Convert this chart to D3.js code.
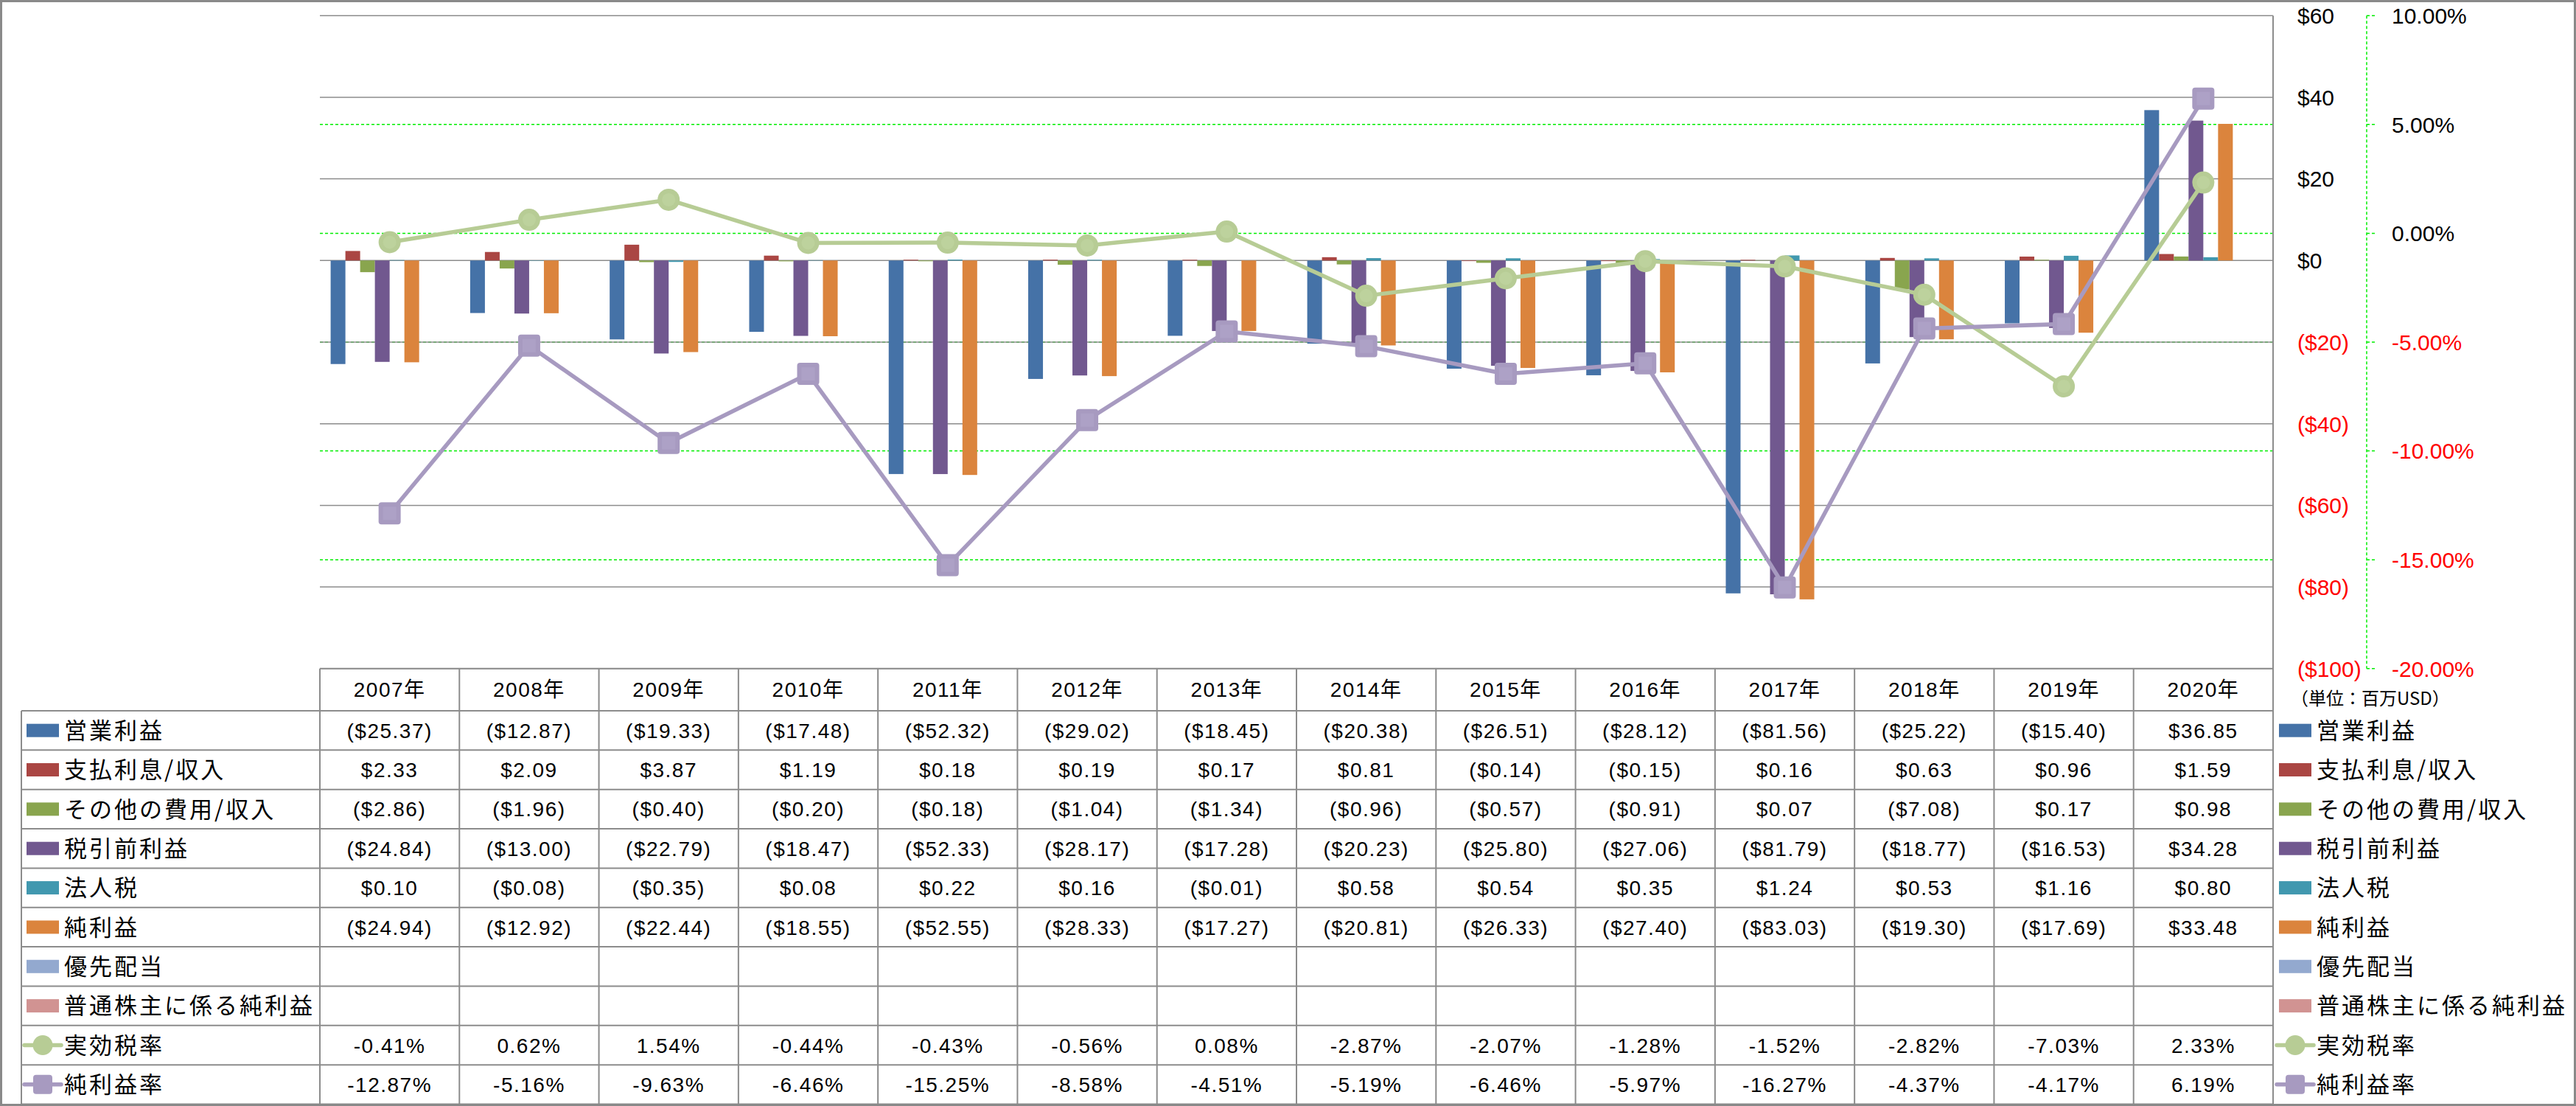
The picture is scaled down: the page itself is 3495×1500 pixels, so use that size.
<!DOCTYPE html>
<html><head><meta charset="utf-8">
<script src="https://cdn.jsdelivr.net/npm/d3@7"></script>
<style>
html,body{margin:0;padding:0;background:#fff;}
svg{display:block;}
</style></head>
<body>
<script>
// ---------- data ----------
const years = ["2007年","2008年","2009年","2010年","2011年","2012年","2013年","2014年","2015年","2016年","2017年","2018年","2019年","2020年"];
const opIncome   = [-25.37,-12.87,-19.33,-17.48,-52.32,-29.02,-18.45,-20.38,-26.51,-28.12,-81.56,-25.22,-15.40,36.85];
const interest   = [2.33,2.09,3.87,1.19,0.18,0.19,0.17,0.81,-0.14,-0.15,0.16,0.63,0.96,1.59];
const otherExp   = [-2.86,-1.96,-0.40,-0.20,-0.18,-1.04,-1.34,-0.96,-0.57,-0.91,0.07,-7.08,0.17,0.98];
const pretax     = [-24.84,-13.00,-22.79,-18.47,-52.33,-28.17,-17.28,-20.23,-25.80,-27.06,-81.79,-18.77,-16.53,34.28];
const incomeTax  = [0.10,-0.08,-0.35,0.08,0.22,0.16,-0.01,0.58,0.54,0.35,1.24,0.53,1.16,0.80];
const netIncome  = [-24.94,-12.92,-22.44,-18.55,-52.55,-28.33,-17.27,-20.81,-26.33,-27.40,-83.03,-19.30,-17.69,33.48];
const prefDiv    = [null,null,null,null,null,null,null,null,null,null,null,null,null,null];
const netCommon  = [null,null,null,null,null,null,null,null,null,null,null,null,null,null];
const taxRate    = [-0.41,0.62,1.54,-0.44,-0.43,-0.56,0.08,-2.87,-2.07,-1.28,-1.52,-2.82,-7.03,2.33];
const netMargin  = [-12.87,-5.16,-9.63,-6.46,-15.25,-8.58,-4.51,-5.19,-6.46,-5.97,-16.27,-4.37,-4.17,6.19];
const usdTicks   = [60,40,20,0,-20,-40,-60,-80,-100];
const pctTicks   = [10,5,0,-5,-10,-15,-20];
const unitLabel  = "（単位：百万USD）";

const barSeries = [
  {name:"営業利益", values:opIncome, color:"#4572A7"},
  {name:"支払利息/収入", values:interest, color:"#AA4643"},
  {name:"その他の費用/収入", values:otherExp, color:"#89A54E"},
  {name:"税引前利益", values:pretax, color:"#71588F"},
  {name:"法人税", values:incomeTax, color:"#4198AF"},
  {name:"純利益", values:netIncome, color:"#DB843D"},
  {name:"優先配当", values:prefDiv, color:"#93A9CF"},
  {name:"普通株主に係る純利益", values:netCommon, color:"#D19392"}
];
const lineSeries = [
  {name:"実効税率", values:taxRate, color:"#B7CC95", marker:"circle"},
  {name:"純利益率", values:netMargin, color:"#A79AC0", marker:"square"}
];

// ---------- layout ----------
const W = 3495, H = 1500;
const plotL = 434, plotR = 3084, plotT = 21.2, plotB = 906.8;
const tableTop = 906.8, headerB = 964, rowH = 53.35, labelL = 29;
const gridGray = "#8C8C8C";

const svg = d3.select("body").append("svg").attr("width", W).attr("height", H);

const x = d3.scaleBand().domain(years).range([plotL, plotR]).padding(0);
const xSub = d3.scaleBand().domain(barSeries.map(s => s.name)).range([0, x.bandwidth()]).paddingInner(0).paddingOuter(0.73);
const y = d3.scaleLinear().domain([-100, 60]).range([plotB, plotT]);
const yP = d3.scaleLinear().domain([-20, 10]).range([plotB, plotT]);

// green dashed gridlines (percent axis)
svg.append("g").selectAll("line").data(pctTicks.filter(d => d !== 10 && d !== -20)).join("line")
  .attr("x1", plotL).attr("x2", plotR)
  .attr("y1", d => yP(d)).attr("y2", d => yP(d))
  .attr("stroke", "#00EE00").attr("stroke-width", 1.5).attr("stroke-dasharray", "4,3");

// gray gridlines
svg.append("g").selectAll("line").data(usdTicks).join("line")
  .attr("x1", plotL).attr("x2", plotR)
  .attr("y1", d => y(d)).attr("y2", d => y(d))
  .attr("stroke", gridGray).attr("stroke-width", 1.5);

// right $ axis line
svg.append("line").attr("x1", plotR).attr("x2", plotR).attr("y1", plotT).attr("y2", H - 3)
  .attr("stroke", gridGray).attr("stroke-width", 2);

// bars
const gBars = svg.append("g");
barSeries.forEach(s => {
  gBars.append("g").selectAll("rect")
    .data(s.values.map((v, i) => ({v, yr: years[i]})).filter(d => d.v !== null))
    .join("rect")
    .attr("x", d => x(d.yr) + xSub(s.name))
    .attr("width", xSub.bandwidth())
    .attr("y", d => Math.min(y(0), y(d.v)))
    .attr("height", d => Math.abs(y(d.v) - y(0)))
    .attr("fill", s.color);
});

// lines
const cx = yr => x(yr) + x.bandwidth() / 2;
lineSeries.forEach(s => {
  const pts = s.values.map((v, i) => ({v, yr: years[i]}));
  svg.append("path").datum(pts)
    .attr("d", d3.line().x(d => cx(d.yr)).y(d => yP(d.v)))
    .attr("fill", "none").attr("stroke", s.color).attr("stroke-width", 5.5)
    .attr("stroke-linejoin", "round");
  const g = svg.append("g");
  if (s.marker === "circle") {
    g.selectAll("circle").data(pts).join("circle")
      .attr("cx", d => cx(d.yr)).attr("cy", d => yP(d.v)).attr("r", 15)
      .attr("fill", s.color);
    g.selectAll("circle.in").data(pts).join("circle").attr("class","in")
      .attr("cx", d => cx(d.yr)).attr("cy", d => yP(d.v)).attr("r", 9)
      .attr("fill", "#BDD29D");
  } else {
    g.selectAll("rect").data(pts).join("rect")
      .attr("x", d => cx(d.yr) - 15).attr("y", d => yP(d.v) - 15)
      .attr("width", 30).attr("height", 30).attr("rx", 4)
      .attr("fill", s.color);
    g.selectAll("rect.in").data(pts).join("rect").attr("class","in")
      .attr("x", d => cx(d.yr) - 9).attr("y", d => yP(d.v) - 9)
      .attr("width", 18).attr("height", 18)
      .attr("fill", "#ADA1C6");
  }
});

// right axes labels
const fmtUsdAxis = d => d < 0 ? "($" + Math.abs(d) + ")" : "$" + d;
svg.append("g").selectAll("text").data(usdTicks).join("text")
  .attr("x", 3117).attr("y", d => y(d)).attr("dy", "0.36em")
  .attr("font-family", "Liberation Sans, Arial, sans-serif").attr("font-size", 30)
  .attr("fill", d => d < 0 ? "#FF0000" : "#000")
  .text(fmtUsdAxis);

const gA = svg.append("g");
gA.append("line").attr("x1", 3211).attr("x2", 3211).attr("y1", plotT).attr("y2", plotB)
  .attr("stroke", "#00EE00").attr("stroke-width", 1.5).attr("stroke-dasharray", "4,3");
gA.selectAll("line.t").data(pctTicks).join("line").attr("class","t")
  .attr("x1", 3211).attr("x2", 3223).attr("y1", d => yP(d)).attr("y2", d => yP(d))
  .attr("stroke", "#00EE00").attr("stroke-width", 1.5).attr("stroke-dasharray", "4,3");
gA.selectAll("text").data(pctTicks).join("text")
  .attr("x", 3245).attr("y", d => yP(d)).attr("dy", "0.36em")
  .attr("font-family", "Liberation Sans, Arial, sans-serif").attr("font-size", 30)
  .attr("fill", d => d < 0 ? "#FF0000" : "#000")
  .text(d => d.toFixed(2) + "%");

svg.append("text").attr("x", 3108).attr("y", 947).attr("dy", "0.36em")
  .attr("font-family", "Noto Sans CJK JP, sans-serif").attr("font-size", 24)
  .attr("fill", "#000").text(unitLabel);

// ---------- data table ----------
const rows = barSeries.map(s => ({...s, kind: "bar"})).concat(lineSeries.map(s => ({...s, kind: "line"})));
const rowY = i => headerB + i * rowH;
const tbl = svg.append("g");

// horizontal lines
tbl.append("line").attr("x1", plotL).attr("x2", plotR).attr("y1", tableTop).attr("y2", tableTop)
  .attr("stroke", gridGray).attr("stroke-width", 2);
tbl.selectAll("line.h").data(d3.range(rows.length + 1)).join("line").attr("class", "h")
  .attr("x1", labelL).attr("x2", plotR).attr("y1", i => rowY(i)).attr("y2", i => rowY(i))
  .attr("stroke", gridGray).attr("stroke-width", 2);
// vertical lines
tbl.selectAll("line.v").data(years).join("line").attr("class", "v")
  .attr("x1", d => x(d)).attr("x2", d => x(d)).attr("y1", tableTop).attr("y2", rowY(rows.length))
  .attr("stroke", gridGray).attr("stroke-width", 2);
tbl.append("line").attr("x1", labelL).attr("x2", labelL).attr("y1", headerB).attr("y2", rowY(rows.length))
  .attr("stroke", gridGray).attr("stroke-width", 2);

const numFont = "Liberation Sans, Arial, Noto Sans CJK JP, sans-serif";
// header
tbl.selectAll("text.yr").data(years).join("text").attr("class", "yr")
  .attr("x", d => cx(d)).attr("y", (tableTop + headerB) / 2).attr("dy", "0.36em")
  .attr("text-anchor", "middle").attr("font-family", numFont).attr("font-size", 28)
  .attr("letter-spacing", 1.5).text(d => d);

const fmtUsd = v => v === null ? "" : (v < 0 ? "($" + Math.abs(v).toFixed(2) + ")" : "$" + v.toFixed(2));
const fmtPct = v => v === null ? "" : v.toFixed(2) + "%";

function drawKey(g, r, kx, ky) {
  if (r.kind === "bar") {
    g.append("rect").attr("x", kx).attr("y", ky - 9).attr("width", 44).attr("height", 18).attr("fill", r.color);
  } else {
    g.append("line").attr("x1", kx - 3).attr("x2", kx + 47).attr("y1", ky).attr("y2", ky)
      .attr("stroke", r.color).attr("stroke-width", 5.5).attr("stroke-linecap", "round");
    if (r.marker === "circle") {
      g.append("circle").attr("cx", kx + 22).attr("cy", ky).attr("r", 13.5).attr("fill", r.color);
    } else {
      g.append("rect").attr("x", kx + 9).attr("y", ky - 13).attr("width", 26).attr("height", 26)
        .attr("rx", 4).attr("fill", r.color);
    }
  }
}

rows.forEach((r, i) => {
  const cy = rowY(i) + rowH / 2;
  drawKey(tbl, r, 36, cy);
  tbl.append("text").attr("x", 87).attr("y", cy).attr("dy", "0.36em")
    .attr("font-family", "Noto Sans CJK JP, sans-serif").attr("font-size", 31)
    .attr("letter-spacing", 3).text(r.name);
  const fmt = r.kind === "bar" ? fmtUsd : fmtPct;
  tbl.append("g").selectAll("text").data(r.values.map((v, j) => ({v, yr: years[j]}))).join("text")
    .attr("x", d => cx(d.yr)).attr("y", cy).attr("dy", "0.36em")
    .attr("text-anchor", "middle").attr("font-family", numFont).attr("font-size", 28)
    .attr("letter-spacing", 1.5).text(d => fmt(d.v));
  // right legend
  drawKey(tbl, r, 3092, cy);
  tbl.append("text").attr("x", 3143).attr("y", cy).attr("dy", "0.36em")
    .attr("font-family", "Noto Sans CJK JP, sans-serif").attr("font-size", 31)
    .attr("letter-spacing", 3).text(r.name);
});

// outer border
svg.append("rect").attr("x", 1.5).attr("y", 1.5).attr("width", W - 3).attr("height", H - 3)
  .attr("fill", "none").attr("stroke", "#898989").attr("stroke-width", 3);
</script>
</body></html>
